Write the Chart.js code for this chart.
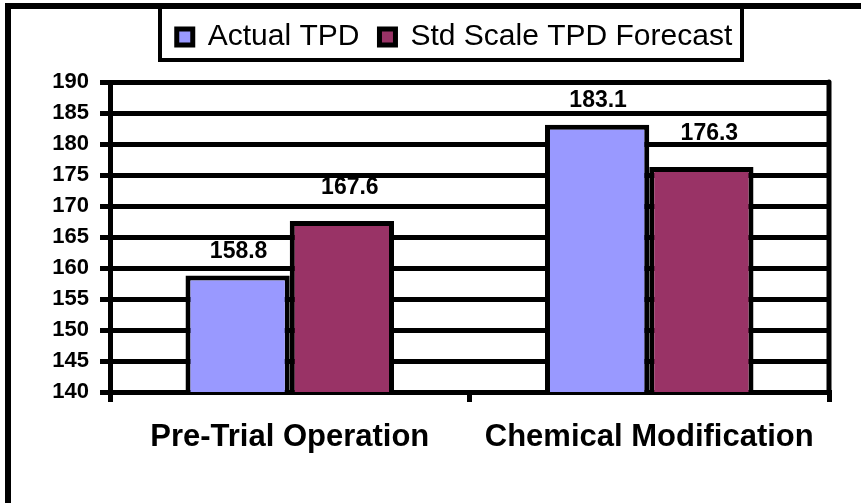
<!DOCTYPE html>
<html>
<head>
<meta charset="utf-8">
<script src="https://cdn.jsdelivr.net/npm/chart.js@4.4.1/dist/chart.umd.min.js"></script>
<style>
    body { margin: 0; background: #fff; }
    canvas { display: block; }
</style>
</head>
<body>
<canvas id="tpdChart" width="861" height="503"></canvas>
<script>
// 데이터
const categories = ['Pre-Trial Operation', 'Chemical Modification']
const actualTpd = [158.8, 183.1]
const forecastTpd = [167.6, 176.3]
const yTicks = [140, 145, 150, 155, 160, 165, 170, 175, 180, 185, 190]

const fontFamily = "Arial, 'Liberation Sans', sans-serif"

// 범례 아래 여백 추가 + 범례 오른쪽으로 이동
const legendGapPlugin = {
    id: 'legendGap',
    afterInit(chart) {
        const legend = chart.legend
        if (!legend) return
        const fit = legend.fit
        legend.fit = function () {
            fit.call(this)
            this.height += 20
        }
    },
    afterLayout(chart) {
        const legend = chart.legend
        if (!legend) return
        legend.left += 40
        legend.right += 40
    }
}

// 바깥 테두리 + 범례 박스 + 오른쪽 축선
const framePlugin = {
    id: 'frame',
    afterDraw(chart) {
        const ctx = chart.ctx
        const area = chart.chartArea
        ctx.save()
        ctx.strokeStyle = '#000'
        ctx.lineWidth = 6
        ctx.beginPath()
        ctx.moveTo(8, 503)
        ctx.lineTo(8, 6)
        ctx.lineTo(861, 6)
        ctx.stroke()

        ctx.lineWidth = 4
        ctx.strokeRect(160, 6, 582, 54)

        ctx.lineWidth = 5
        ctx.lineCap = 'round'
        ctx.beginPath()
        ctx.moveTo(area.right, area.top)
        ctx.lineTo(area.right, area.bottom)
        ctx.stroke()
        ctx.restore()
    }
}

// 막대 위 값 표시
const valueLabelPlugin = {
    id: 'valueLabels',
    afterDatasetsDraw(chart) {
        const ctx = chart.ctx
        ctx.save()
        ctx.font = 'bold 23px ' + fontFamily
        ctx.fillStyle = '#000'
        ctx.textAlign = 'center'
        ctx.textBaseline = 'middle'
        chart.data.datasets.forEach((ds, i) => {
            const meta = chart.getDatasetMeta(i)
            const dx = i === 0 ? 1 : 8
            const dy = i === 0 ? 24 : 33
            meta.data.forEach((bar, j) => {
                ctx.fillText(ds.data[j].toFixed(1), bar.x + dx, bar.y - dy)
            })
        })
        ctx.restore()
    }
}

const context = document.getElementById('tpdChart')
const config = {
    type: 'bar',
    data: {
        labels: categories,
        datasets: [{
            label: 'Actual TPD',
            data: actualTpd,
            backgroundColor: '#9999FF',
            borderColor: '#000',
            borderWidth: 5,
            categoryPercentage: 0.58,
            barPercentage: 1.0
        }, {
            label: 'Std Scale TPD Forecast',
            data: forecastTpd,
            backgroundColor: '#993366',
            borderColor: '#000',
            borderWidth: 5,
            categoryPercentage: 0.58,
            barPercentage: 1.0
        }]
    },
    options: {
        responsive: false,
        animation: false,
        layout: { padding: { top: 2, right: 32, left: 0, bottom: 0 } },
        scales: {
            x: {
                grid: {
                    drawOnChartArea: false,
                    color: '#000',
                    lineWidth: 5,
                    tickLength: 10,
                    offset: true
                },
                border: { color: '#000', width: 5 },
                ticks: {
                    color: '#000',
                    font: { family: fontFamily, size: 31, weight: 'bold' },
                    padding: 17
                },
                afterFit: scale => { scale.height = 111 }
            },
            y: {
                min: 140,
                max: 190,
                afterBuildTicks: scale => { scale.ticks = yTicks.map(v => ({ value: v })) },
                grid: {
                    color: '#000',
                    lineWidth: 5,
                    tickLength: 10
                },
                border: { color: '#000', width: 5 },
                ticks: {
                    color: '#000',
                    font: { family: fontFamily, size: 22, weight: 'bold' },
                    padding: 11
                },
                afterFit: scale => { scale.width = 110 }
            }
        },
        plugins: {
            legend: {
                position: 'top',
                labels: {
                    color: '#000',
                    boxWidth: 16,
                    boxHeight: 16,
                    padding: 20,
                    font: { family: fontFamily, size: 30 }
                }
            },
            tooltip: { enabled: false }
        }
    },
    plugins: [legendGapPlugin, framePlugin, valueLabelPlugin]
}
const tpdChart = new Chart(context, config)
</script>
</body>
</html>
